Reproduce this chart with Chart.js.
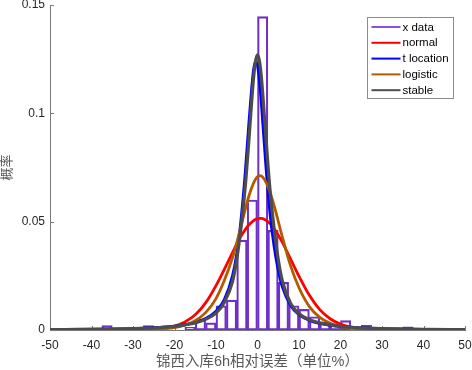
<!DOCTYPE html>
<html><head><meta charset="utf-8">
<script src="https://cdn.jsdelivr.net/npm/chart.js@4.4.1/dist/chart.umd.min.js"></script>
<style>html,body{margin:0;padding:0;background:#fff;}#wrap{width:472px;height:370px;}</style>
</head><body><div id="wrap"><canvas id="c" width="472" height="370"></canvas></div>
<script>
// histogram (probability density, bin width 2.5)
const binCenters = [-36.25, -26.25, -16.25, -13.75, -11.25, -8.75, -6.25, -3.75, -1.25, 1.25, 3.75, 6.25, 8.75, 11.25, 13.75, 16.25, 18.75, 21.25, 26.25, 36.25];
const binDensity = [0.002, 0.002, 0.0012, 0.0049, 0.0033, 0.0112, 0.0138, 0.0415, 0.060, 0.1446, 0.0460, 0.022, 0.0112, 0.0095, 0.0061, 0.0036, 0.0028, 0.0043, 0.0022, 0.0015];

// fitted curves read at these x positions
const curveX    = [-50, -40, -30, -25, -20, -17.5, -15, -12.5, -10, -8, -6, -5, -4, -3, -2, -1, -0.5, 0, 0.5, 1, 2, 3, 4, 5, 6, 8, 10, 12.5, 15, 17.5, 20, 25, 30, 40, 50];
const normalY   = [0, 0, 0.00003, 0.0003, 0.0018, 0.0037, 0.0070, 0.0125, 0.0205, 0.0280, 0.0358, 0.0397, 0.0432, 0.0462, 0.0487, 0.0504, 0.0510, 0.0513, 0.0515, 0.0515, 0.0507, 0.0491, 0.0468, 0.0438, 0.0404, 0.0326, 0.0248, 0.0160, 0.0094, 0.0052, 0.0027, 0.0005, 0.00005, 0, 0];
const tLocY     = [0.0002, 0.00034, 0.00067, 0.00104, 0.00176, 0.00243, 0.00347, 0.00528, 0.00870, 0.0140, 0.0252, 0.0352, 0.0505, 0.0715, 0.0974, 0.1195, 0.1239, 0.1220, 0.1143, 0.1027, 0.0762, 0.0540, 0.0385, 0.0275, 0.0198, 0.0112, 0.0071, 0.00445, 0.0030, 0.0021, 0.00158, 0.00095, 0.00062, 0.00032, 0.00019];
const logisticY = [0, 0.000005, 0.00007, 0.00026, 0.0011, 0.0022, 0.0043, 0.0080, 0.0145, 0.0228, 0.0335, 0.0402, 0.0477, 0.0553, 0.0623, 0.0676, 0.0695, 0.0707, 0.0712, 0.0710, 0.0684, 0.0637, 0.0574, 0.0502, 0.0428, 0.0295, 0.0195, 0.0108, 0.0058, 0.0031, 0.0016, 0.0004, 0.0001, 0, 0];
const stableY   = [0.0002, 0.00034, 0.00067, 0.0010, 0.0017, 0.0024, 0.0033, 0.0049, 0.0078, 0.0127, 0.0225, 0.0325, 0.0470, 0.0650, 0.0895, 0.1152, 0.1238, 0.127, 0.1238, 0.1152, 0.0895, 0.0650, 0.0470, 0.0325, 0.0225, 0.0122, 0.0075, 0.0047, 0.0033, 0.0024, 0.0017, 0.0010, 0.00067, 0.00034, 0.0002];

const seriesNames = ['x data', 'normal', 't location', 'logistic', 'stable'];
const xTicks = [-50, -40, -30, -20, -10, 0, 10, 20, 30, 40, 50];
const yTicks = [0, 0.05, 0.1, 0.15];
const xTitle = '锦西入库6h相对误差（单位%）';
const yTitle = '概率';

const FONT = '"Liberation Sans", Arial, "Noto Sans CJK SC", sans-serif';
const AXIS = '#7a7a7a';
const pts = ys => curveX.map((x, i) => ({x, y: ys[i]}));

const lineDs = (label, ys, color, w, order) => ({
  type: 'line', label, data: pts(ys), borderColor: color, backgroundColor: color,
  borderWidth: w, pointRadius: 0, cubicInterpolationMode: 'monotone', fill: false, order
});

const inTicks = {
  id: 'inTicks',
  beforeDatasetsDraw(chart) {
    const ctx = chart.ctx, xs = chart.scales.x, ys = chart.scales.y, a = chart.chartArea;
    ctx.save(); ctx.strokeStyle = AXIS; ctx.lineWidth = 1;
    xTicks.forEach(v => { const p = Math.round(xs.getPixelForValue(v)) + 0.5; ctx.beginPath(); ctx.moveTo(p, a.bottom); ctx.lineTo(p, a.bottom - 4); ctx.stroke(); });
    yTicks.forEach(v => { const p = Math.round(ys.getPixelForValue(v)) + 0.5; ctx.beginPath(); ctx.moveTo(a.left, p); ctx.lineTo(a.left + 4, p); ctx.stroke(); });
    ctx.restore();
  }
};

const boxLegend = {
  id: 'boxLegend',
  afterDraw(chart) {
    const ctx = chart.ctx, a = chart.chartArea;
    const x0 = Math.round(a.right - 98) + 0.5, y0 = Math.round(a.top + 12) + 0.5, w = 86, h = 81;
    ctx.save();
    ctx.fillStyle = '#fff'; ctx.fillRect(x0, y0, w, h);
    ctx.strokeStyle = '#8c8c8c'; ctx.lineWidth = 1; ctx.strokeRect(x0, y0, w, h);
    ctx.font = '11.5px ' + FONT; ctx.textBaseline = 'middle'; ctx.textAlign = 'left';
    chart.data.datasets.forEach((ds, i) => {
      const yy = y0 + 9.5 + i * 15.8;
      ctx.strokeStyle = ds.legendColor || ds.borderColor; ctx.lineWidth = 2;
      ctx.beginPath(); ctx.moveTo(x0 + 4, yy); ctx.lineTo(x0 + 33, yy); ctx.stroke();
      ctx.fillStyle = '#000';
      ctx.fillText(ds.label, x0 + 35, yy + 0.5);
    });
    ctx.restore();
  }
};

new Chart(document.getElementById('c'), {
  type: 'bar',
  data: {
    datasets: [
      { type: 'bar', label: seriesNames[0], data: binCenters.map((x, i) => ({x, y: binDensity[i]})),
        backgroundColor: 'rgba(0,0,0,0)', borderColor: '#6f2fc8', legendColor: '#8a4ee0', borderWidth: 1.5,
        borderSkipped: false, barPercentage: 1, categoryPercentage: 1, order: 5 },
      lineDs(seriesNames[1], normalY, '#ff0000', 2.8, 4),
      lineDs(seriesNames[2], tLocY, '#0000ff', 2.8, 3),
      lineDs(seriesNames[3], logisticY, '#b35900', 2.8, 2),
      lineDs(seriesNames[4], stableY, '#4d4d4d', 3.2, 1)
    ]
  },
  options: {
    responsive: false, animation: false,
    layout: { padding: { left: 0, right: 7, top: 5, bottom: 0 } },
    plugins: { legend: { display: false }, tooltip: { enabled: false } },
    scales: {
      x: {
        type: 'linear', min: -50, max: 50, offset: false,
        grid: { display: false, drawTicks: false, offset: false },
        border: { display: true, color: AXIS, width: 1 },
        afterBuildTicks: s => { s.ticks = xTicks.map(v => ({value: v})); },
        afterFit: s => { s.height = 40; s.paddingLeft = 0; s.paddingRight = 0; },
        ticks: { color: '#262626', font: { size: 12, family: FONT }, padding: 8, maxRotation: 0, autoSkip: false, callback: v => String(v) },
        title: { display: true, text: xTitle, color: '#595959', font: { size: 14.5, family: FONT }, padding: { top: 0, bottom: -1 } }
      },
      y: {
        type: 'linear', min: 0, max: 0.15,
        grid: { display: false, drawTicks: false },
        border: { display: true, color: AXIS, width: 1 },
        afterBuildTicks: s => { s.ticks = yTicks.map(v => ({value: v})); },
        afterFit: s => { s.width = 50; s.paddingTop = 0; s.paddingBottom = 0; },
        ticks: { color: '#262626', font: { size: 12, family: FONT }, padding: 5, callback: v => String(Number(v.toFixed(2))) },
        title: { display: true, text: yTitle, color: '#595959', font: { size: 13, family: FONT }, padding: { top: 0, bottom: 0 } }
      }
    }
  },
  plugins: [inTicks, boxLegend]
});
</script>
</body></html>
